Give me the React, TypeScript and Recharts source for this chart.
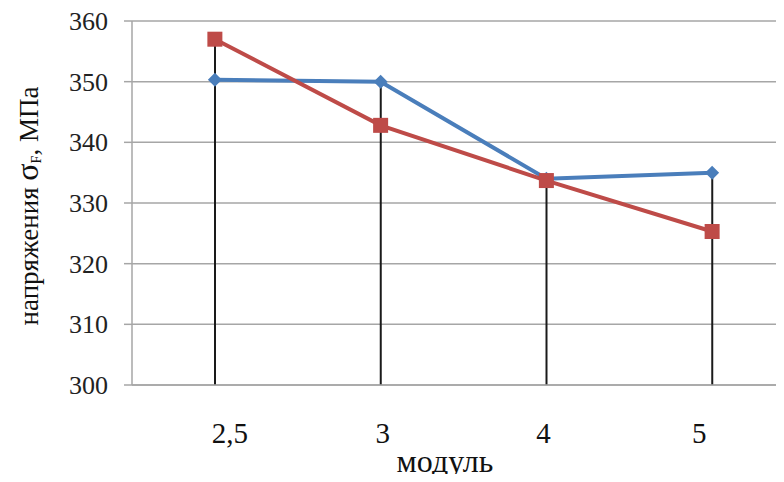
import { ComposedChart, Line, Bar, XAxis, YAxis, CartesianGrid } from 'recharts'

const modules = ['2,5', '3', '4', '5']
const blueValues = [350.3, 350, 334, 335]
const redValues = [357, 342.8, 333.7, 325.3]
const yTicks = [300, 310, 320, 330, 340, 350, 360]

const data = modules.map((m, i) => ({
  m,
  blue: blueValues[i],
  red: redValues[i],
  drop: Math.max(blueValues[i], redValues[i]),
}))

const SERIF = '"Times New Roman", "Liberation Serif", serif'
// the category labels in the original sit a little off their gridlines
const xLabelShift = [15, 2, -3, -13]

function Diamond(props: any) {
  const { cx, cy } = props
  if (cx == null || cy == null) return null
  const r = 7
  return <path d={`M${cx},${cy - r}L${cx + r},${cy}L${cx},${cy + r}L${cx - r},${cy}Z`} fill="#4a7ebb" />
}

function Square(props: any) {
  const { cx, cy } = props
  if (cx == null || cy == null) return null
  const s = 7.5
  return <rect x={cx - s} y={cy - s} width={s * 2} height={s * 2} fill="#be4b48" />
}

function XTick(props: any) {
  const { x, y, payload, index } = props
  return (
    <text x={x + (xLabelShift[index] ?? 0)} y={y + 58} textAnchor="middle" style={{ fontFamily: SERIF, fontSize: 29 }} fill="#111">
      {payload.value}
    </text>
  )
}

function YTick(props: any) {
  const { x, y, payload } = props
  return (
    <text x={x} y={y + 9} textAnchor="end" style={{ fontFamily: SERIF, fontSize: 26 }} fill="#222">
      {payload.value}
    </text>
  )
}

function YLabel() {
  return (
    <text
      transform="translate(38, 206) rotate(-90)"
      textAnchor="middle"
      style={{ fontFamily: SERIF, fontSize: 27 }}
      fill="#111"
    >
      напряжения <tspan style={{ fontSize: 32 }}>σ</tspan>
      <tspan style={{ fontSize: 14 }} dy={3}>F</tspan>
      <tspan dy={-3}>, МПа</tspan>
    </text>
  )
}

function XLabel() {
  return (
    <text x={445} y={472} textAnchor="middle" style={{ fontFamily: SERIF, fontSize: 32 }} fill="#111">
      модуль
    </text>
  )
}

export default function App() {
  return (
    <div style={{ margin: -8, width: 784, height: 482, overflow: 'hidden', position: 'relative', background: '#fff', fontFamily: SERIF }}>
      <ComposedChart
        width={800}
        height={482}
        data={data}
        margin={{ top: 21, right: 5, left: 0, bottom: 0 }}
      >
        <CartesianGrid vertical={false} stroke="#a6a6a6" strokeWidth={1.5} />
        <XAxis
          dataKey="m"
          height={97}
          axisLine={{ stroke: '#a6a6a6', strokeWidth: 1.5 }}
          tickLine={false}
          tickSize={0}
          tickMargin={0}
          tick={<XTick />}
          label={<XLabel />}
        />
        <YAxis
          width={132}
          domain={[300, 360]}
          ticks={yTicks}
          interval={0}
          axisLine={{ stroke: '#a6a6a6', strokeWidth: 1.5 }}
          tickLine={{ stroke: '#a6a6a6', strokeWidth: 1.5 }}
          tickSize={8}
          tickMargin={16}
          tick={<YTick />}
          label={<YLabel />}
        />
        <Bar dataKey="drop" barSize={2} fill="#1a1a1a" isAnimationActive={false} />
        <Line
          dataKey="blue"
          stroke="#4a7ebb"
          strokeWidth={4}
          dot={<Diamond />}
          activeDot={false}
          isAnimationActive={false}
        />
        <Line
          dataKey="red"
          stroke="#be4b48"
          strokeWidth={4}
          dot={<Square />}
          activeDot={false}
          isAnimationActive={false}
        />
      </ComposedChart>
    </div>
  )
}
